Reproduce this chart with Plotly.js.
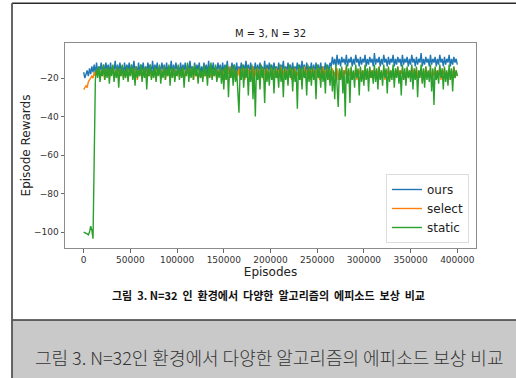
<!DOCTYPE html>
<html>
<head>
<meta charset="utf-8">
<script src="https://cdn.plot.ly/plotly-3.0.1.min.js"></script>
<style>
  html, body { margin: 0; padding: 0; background: #ffffff; }
  #chart { width: 516px; height: 378px; }
</style>
</head>
<body>
<div id="chart"></div>
<script>
// ---- data ----
const episodeStep = 1250;

const ours = [
  -17, -20, -18, -16, -19, -15, -18, -14, -17, -13, -18, -12, -17, -14, -16, -12, -18, -13, -17, -12,
  -16, -13, -18, -12, -17, -14, -16, -11, -18, -13, -17, -12, -16, -14, -18, -12, -17, -13, -16, -12,
  -18, -13, -17, -11, -16, -14, -18, -12, -17, -13, -16, -12, -18, -14, -17, -12, -16, -13, -18, -11,
  -17, -13, -16, -12, -18, -14, -17, -12, -16, -13, -18, -12, -17, -14, -16, -11, -18, -13, -17, -12,
  -16, -14, -18, -12, -17, -13, -16, -12, -18, -13, -17, -11, -16, -14, -18, -12, -17, -13, -16, -12,
  -18, -14, -17, -12, -16, -13, -18, -11, -17, -13, -16, -12, -18, -14, -17, -12, -16, -13, -18, -12,
  -17, -13, -16, -11, -18, -14, -17, -12, -16, -13, -18, -12, -17, -14, -16, -12, -18, -13, -17, -11,
  -16, -13, -18, -12, -17, -14, -16, -12, -18, -13, -17, -12, -16, -14, -18, -11, -17, -13, -16, -12,
  -18, -13, -17, -12, -16, -14, -18, -12, -17, -13, -16, -11, -18, -14, -17, -12, -16, -13, -18, -12,
  -17, -14, -16, -12, -18, -13, -17, -11, -16, -13, -18, -12, -17, -14, -16, -12, -18, -13, -17, -12,
  -16, -13, -18, -12, -17, -14, -16, -12, -18, -13, -17, -12, -14, -9, -13, -10, -14, -8, -13, -10,
  -14, -9, -12, -10, -13, -8, -14, -10, -12, -9, -14, -10, -13, -8, -12, -10, -14, -9, -13, -10,
  -12, -8, -14, -10, -13, -9, -12, -10, -14, -7, -13, -10, -12, -9, -14, -10, -13, -8, -12, -10,
  -14, -9, -13, -10, -12, -8, -14, -10, -13, -9, -12, -10, -14, -8, -13, -10, -12, -9, -14, -10,
  -13, -8, -12, -10, -14, -9, -13, -10, -12, -7, -14, -10, -13, -9, -12, -10, -14, -8, -13, -10,
  -12, -9, -14, -10, -13, -8, -12, -10, -14, -9, -13, -10, -12, -8, -14, -10, -13, -9, -12, -10,
  -13
];

const select = [
  -26, -25, -24, -25, -22, -21, -20, -19, -20, -17, -19, -16, -18, -15, -20, -16, -19, -15, -21, -16,
  -19, -15, -20, -16, -18, -14, -20, -16, -19, -15, -21, -16, -19, -15, -20, -17, -19, -15, -21, -16,
  -18, -15, -20, -16, -19, -14, -21, -16, -19, -15, -20, -16, -18, -15, -21, -16, -19, -15, -20, -17,
  -19, -15, -21, -16, -18, -15, -20, -16, -19, -14, -21, -16, -19, -15, -20, -16, -18, -15, -21, -16,
  -19, -15, -20, -17, -19, -15, -21, -16, -18, -14, -20, -16, -19, -15, -21, -16, -19, -18, -20, -18,
  -19, -18, -20, -18, -19, -17, -20, -18, -19, -18, -20, -17, -19, -15, -21, -16, -18, -15, -20, -16,
  -19, -15, -21, -16, -18, -14, -20, -16, -19, -15, -21, -16, -19, -15, -20, -17, -19, -15, -21, -16,
  -18, -15, -20, -16, -19, -14, -21, -16, -19, -15, -20, -16, -18, -15, -21, -16, -19, -15, -20, -17,
  -19, -15, -21, -16, -18, -15, -20, -16, -19, -14, -21, -16, -19, -15, -20, -16, -18, -15, -21, -16,
  -19, -15, -20, -17, -19, -15, -21, -16, -18, -14, -20, -16, -19, -15, -21, -16, -19, -15, -20, -16,
  -18, -15, -21, -16, -19, -14, -20, -16, -19, -15, -21, -16, -18, -15, -20, -17, -19, -15, -21, -16,
  -19, -15, -20, -16, -18, -14, -21, -16, -19, -15, -20, -17, -19, -15, -21, -16, -18, -15, -20, -16,
  -19, -14, -21, -16, -19, -15, -20, -16, -18, -15, -21, -16, -19, -14, -20, -17, -19, -15, -21, -16,
  -18, -15, -20, -16, -19, -15, -21, -16, -19, -14, -20, -16, -18, -15, -21, -17, -19, -15, -20, -16,
  -19, -14, -21, -16, -18, -15, -20, -16, -19, -15, -22, -16, -19, -14, -20, -17, -18, -15, -21, -16,
  -19, -15, -20, -16, -19, -14, -21, -16, -18, -15, -20, -17, -19, -15, -21, -16, -19, -14, -20, -16,
  -19
];

const staticRewards = [
  -100, -100.2, -100.5, -101, -101.5, -100, -97, -99, -103.5, -60, -21, -15, -20, -14, -22, -16, -19, -13, -21, -15,
  -20, -14, -23, -15, -19, -13, -22, -16, -20, -14, -25, -15, -19, -13, -21, -16, -20, -14, -22, -15,
  -19, -13, -21, -15, -24, -14, -20, -16, -19, -13, -22, -15, -20, -14, -26, -15, -19, -13, -21, -16,
  -20, -14, -22, -15, -19, -13, -23, -16, -20, -14, -21, -15, -19, -13, -24, -15, -20, -14, -22, -16,
  -19, -13, -21, -15, -20, -14, -25, -16, -19, -12, -22, -15, -20, -14, -21, -13, -19, -15, -23, -14,
  -20, -16, -22, -13, -19, -15, -24, -14, -20, -12, -21, -15, -19, -13, -22, -16, -20, -14, -23, -15,
  -26, -14, -21, -13, -30, -15, -20, -14, -24, -13, -22, -16, -27, -38, -15, -21, -13, -25, -15, -20,
  -14, -29, -16, -22, -13, -31, -15, -40, -14, -21, -16, -26, -13, -20, -15, -33, -14, -22, -16, -24,
  -13, -21, -15, -28, -14, -20, -16, -25, -13, -22, -15, -30, -14, -21, -16, -24, -13, -20, -15, -27,
  -14, -22, -16, -36, -13, -21, -15, -26, -14, -20, -16, -29, -13, -22, -15, -24, -14, -21, -16, -31,
  -13, -20, -15, -25, -14, -22, -16, -28, -13, -21, -15, -24, -14, -27, -16, -31, -13, -22, -35, -15,
  -21, -14, -28, -16, -40, -13, -23, -15, -33, -14, -21, -16, -25, -13, -20, -15, -29, -14, -22, -16,
  -24, -13, -21, -15, -27, -14, -20, -16, -23, -13, -22, -15, -26, -14, -21, -16, -24, -13, -20, -15,
  -28, -14, -22, -16, -21, -13, -25, -15, -20, -14, -23, -16, -29, -13, -21, -15, -24, -14, -20, -16,
  -22, -13, -26, -15, -21, -14, -30, -16, -20, -13, -23, -15, -25, -14, -21, -16, -22, -13, -27, -15,
  -34, -14, -21, -16, -23, -13, -20, -15, -26, -14, -22, -16, -24, -13, -21, -15, -27, -14, -20, -16,
  -19
];

const seriesNames = ["ours", "select", "static"];
const seriesColors = ["#1f77b4", "#ff7f0e", "#2ca02c"];
const xTickVals = [0, 50000, 100000, 150000, 200000, 250000, 300000, 350000, 400000];
const xTickText = ["0", "50000", "100000", "150000", "200000", "250000", "300000", "350000", "400000"];
const yTickVals = [-100, -80, -60, -40, -20];
const yTickText = ["\u2212100", "\u221280", "\u221260", "\u221240", "\u221220"];

const chartTitle = "M = 3, N = 32";
const xTitle = "Episodes";
const yTitle = "Episode Rewards";
const innerCaption = "그림  3. N=32  인  환경에서  다양한  알고리즘의  에피소드  보상  비교";
const outerCaption = "그림 3. N=32인 환경에서 다양한 알고리즘의 에피소드 보상 비교";

// ---- build ----
const W = 516, H = 378;
const px = v => v / W;
const py = v => 1 - v / H;

const allSeries = [ours, select, staticRewards];
const traces = allSeries.map((vals, k) => ({
  type: "scatter",
  mode: "lines",
  name: seriesNames[k],
  x: vals.map((_, i) => i * episodeStep),
  y: vals,
  line: { color: seriesColors[k], width: 1.4 },
  hoverinfo: "skip"
}));

const tickFont = { family: "DejaVu Sans", size: 9, color: "#333333" };

const layout = {
  width: W, height: H,
  margin: { l: 0, r: 0, t: 0, b: 0 },
  paper_bgcolor: "#ffffff",
  plot_bgcolor: "#ffffff",
  showlegend: true,
  title: {
    text: chartTitle,
    font: { family: "DejaVu Sans", size: 10, color: "#222222" },
    x: px(270.5), xref: "paper", xanchor: "center",
    y: py(33), yref: "paper", yanchor: "middle"
  },
  xaxis: {
    domain: [px(65), px(476)],
    range: [-20000, 420000],
    tickvals: xTickVals, ticktext: xTickText,
    ticks: "outside", ticklen: 3.5, tickwidth: 0.8, tickcolor: "#444444",
    tickfont: tickFont,
    showgrid: false, zeroline: false,
    showline: true, mirror: true, linecolor: "#8c8c8c", linewidth: 1,
    title: { text: xTitle, font: { family: "DejaVu Sans", size: 12, color: "#222222" }, standoff: 3 },
    automargin: false
  },
  yaxis: {
    domain: [py(248), py(43)],
    range: [-108.3, -1.8],
    tickvals: yTickVals, ticktext: yTickText,
    ticks: "outside", ticklen: 3.5, tickwidth: 0.8, tickcolor: "#444444",
    tickfont: tickFont,
    showgrid: false, zeroline: false,
    showline: true, mirror: true, linecolor: "#8c8c8c", linewidth: 1,
    title: { text: yTitle, font: { family: "DejaVu Sans", size: 12, color: "#222222" }, standoff: 0 },
    automargin: false
  },
  legend: {
    x: px(469), xanchor: "right",
    y: py(243), yanchor: "bottom",
    bgcolor: "#ffffff",
    bordercolor: "#dddddd", borderwidth: 1,
    font: { family: "DejaVu Sans", size: 12, color: "#222222" }
  },
  shapes: [
    { type: "rect", xref: "paper", yref: "paper", x0: px(12), x1: 1, y0: 0, y1: py(320),
      fillcolor: "#c9c9c9", line: { width: 0 }, layer: "below" },
    { type: "line", xref: "paper", yref: "paper", x0: px(12), x1: 1, y0: py(320), y1: py(320),
      line: { color: "#3a3a3a", width: 1.5 } },
    { type: "line", xref: "paper", yref: "paper", x0: px(12), x1: 1, y0: py(3.3), y1: py(3.3),
      line: { color: "#2a2a2a", width: 1.5 } },
    { type: "line", xref: "paper", yref: "paper", x0: px(12), x1: px(12), y0: 0, y1: py(3.3),
      line: { color: "#555555", width: 1.8 } }
  ],
  annotations: [
    { text: innerCaption, xref: "paper", yref: "paper", x: px(268), y: py(295),
      xanchor: "center", yanchor: "middle", showarrow: false,
      font: { family: "Noto Sans CJK KR", size: 11, color: "#111111", weight: 700 } },
    { text: outerCaption, xref: "paper", yref: "paper", x: px(269), y: py(357),
      xanchor: "center", yanchor: "middle", showarrow: false,
      font: { family: "Noto Sans CJK KR", size: 18, color: "#333333", weight: 300 } }
  ]
};

Plotly.newPlot("chart", traces, layout, { staticPlot: true, displayModeBar: false });
</script>
</body>
</html>
